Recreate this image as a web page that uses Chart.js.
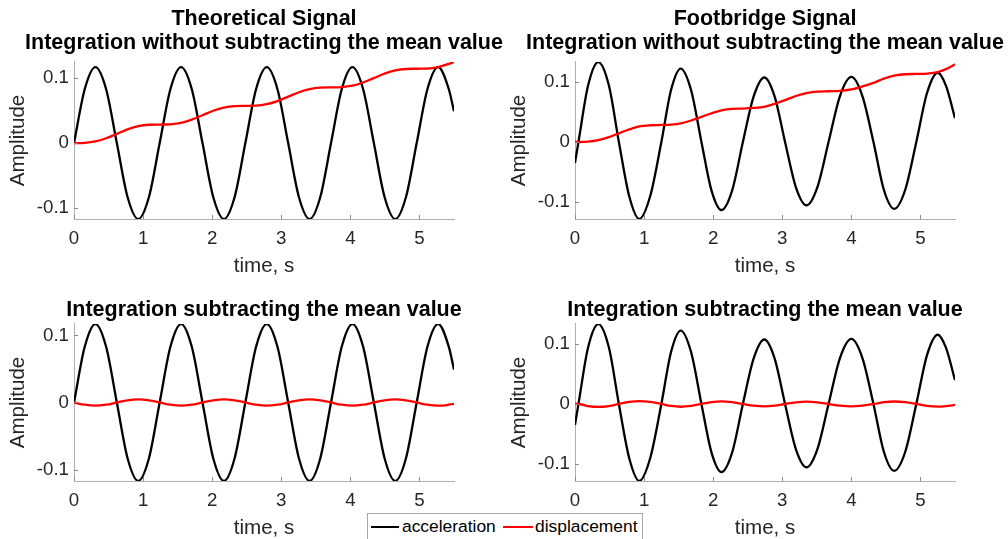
<!DOCTYPE html>
<html lang="en">
  <head>
    <meta charset="UTF-8" />
    <title>Integration of acceleration signals</title>
    <script src="https://cdn.jsdelivr.net/npm/chart.js"></script>
    <style>
      body {
        margin: 0;
        width: 1008px;
        height: 539px;
        background: #fff;
        overflow: hidden;
        position: relative;
        font-family: "Liberation Sans", Arial, sans-serif;
      }
      canvas {
        position: absolute;
      }
      .legend {
        position: absolute;
        left: 367px;
        top: 513px;
        width: 276px;
        height: 34px;
        border: 1px solid #a6a6a6;
        background: #fff;
        box-sizing: border-box;
      }
      .legend .sw {
        position: absolute;
        top: 12px;
        height: 2px;
      }
      .legend .lb {
        position: absolute;
        top: 4px;
        font-size: 17.4px;
        line-height: 1;
        color: #000;
      }
    </style>
  </head>
  <body>
    <canvas id="tl" width="528" height="279" style="left: 0; top: 0"></canvas>
    <canvas id="tr" width="528" height="279" style="left: 501px; top: 0"></canvas>
    <canvas id="bl" width="528" height="253" style="left: 0; top: 288px"></canvas>
    <canvas id="br" width="528" height="253" style="left: 501px; top: 288px"></canvas>
    <div class="legend">
      <div class="sw" style="left: 3px; width: 28px; background: #000"></div>
      <div class="lb" style="left: 34px">acceleration</div>
      <div class="sw" style="left: 135px; width: 30px; background: #f00"></div>
      <div class="lb" style="left: 167px">displacement</div>
    </div>
    <script>
      // time, s (theoretical signal)
      const timeTheo = [
        0, 0.155, 0.31, 0.465, 0.62, 0.775, 0.93, 1.085, 1.24, 1.395, 1.55,
        1.705, 1.86, 2.015, 2.17, 2.325, 2.48, 2.635, 2.79, 2.945, 3.1, 3.255,
        3.41, 3.565, 3.72, 3.875, 4.03, 4.185, 4.34, 4.495, 4.65, 4.805, 4.96,
        5.115, 5.27, 5.425, 5.5,
      ];
      const accTheo = [
        0, 0.083, 0.117, 0.083, 0, -0.083, -0.117, -0.083, 0, 0.083, 0.117,
        0.083, 0, -0.083, -0.117, -0.083, 0, 0.083, 0.117, 0.083, 0, -0.083,
        -0.117, -0.083, 0, 0.083, 0.117, 0.083, 0, -0.083, -0.117, -0.083, 0,
        0.083, 0.117, 0.083, 0.049,
      ];
      // displacement, no mean subtracted
      const dispTheo = [
        0, 0.0004, 0.0026, 0.0075, 0.0143, 0.0211, 0.0261, 0.0283, 0.0286,
        0.029, 0.0312, 0.0362, 0.043, 0.0498, 0.0547, 0.0569, 0.0573, 0.0576,
        0.0599, 0.0648, 0.0716, 0.0784, 0.0833, 0.0856, 0.0859, 0.0863, 0.0885,
        0.0934, 0.1002, 0.1071, 0.112, 0.1142, 0.1146, 0.1149, 0.1172, 0.1221,
        0.125,
      ];
      // displacement, mean subtracted
      const dispTheoZero = [
        0, -0.0033, -0.0047, -0.0033, 0, 0.0033, 0.0047, 0.0033, 0, -0.0033,
        -0.0047, -0.0033, 0, 0.0033, 0.0047, 0.0033, 0, -0.0033, -0.0047,
        -0.0033, 0, 0.0033, 0.0047, 0.0033, 0, -0.0033, -0.0047, -0.0033, 0,
        0.0033, 0.0047, 0.0033, 0, -0.0033, -0.0047, -0.0033, -0.002,
      ];

      // time, s (footbridge signal)
      const timeFoot = [
        0, 0.05, 0.19, 0.337, 0.49, 0.635, 0.785, 0.93, 1.09, 1.25, 1.39, 1.53,
        1.68, 1.83, 1.975, 2.12, 2.275, 2.43, 2.585, 2.74, 2.89, 3.04, 3.195,
        3.35, 3.51, 3.67, 3.835, 4.0, 4.16, 4.32, 4.47, 4.62, 4.78, 4.94, 5.095,
        5.25, 5.37, 5.5,
      ];
      const accFoot = [
        -0.035, 0, 0.095, 0.134, 0.095, 0, -0.091, -0.129, -0.09, 0, 0.087,
        0.123, 0.087, 0, -0.081, -0.114, -0.081, 0, 0.076, 0.108, 0.076, 0,
        -0.075, -0.106, -0.075, 0, 0.077, 0.109, 0.077, 0, -0.08, -0.112, -0.08,
        0, 0.082, 0.116, 0.094, 0.04,
      ];
      const dispFoot = [
        0, 0, 0.0005, 0.003, 0.008, 0.0145, 0.021, 0.026, 0.028, 0.0285, 0.029,
        0.031, 0.036, 0.042, 0.048, 0.053, 0.0555, 0.056, 0.057, 0.059, 0.064,
        0.07, 0.077, 0.082, 0.0845, 0.085, 0.0855, 0.088, 0.093, 0.099, 0.106,
        0.111, 0.1135, 0.114, 0.1145, 0.117, 0.122, 0.13,
      ];
      const dispFootZero = [
        0, 0, -0.0036, -0.005, -0.0036, 0, 0.0034, 0.0049, 0.0034, 0, -0.0033,
        -0.0046, -0.0033, 0, 0.003, 0.0043, 0.003, 0, -0.0029, -0.0041,
        -0.0029, 0, 0.0028, 0.004, 0.0028, 0, -0.0029, -0.0041, -0.0029, 0,
        0.003, 0.0042, 0.003, 0, -0.0031, -0.0044, -0.0035, -0.0015,
      ];

      const xTicks = [0, 1, 2, 3, 4, 5];
      const yTicks = [-0.1, 0, 0.1];

      const axisColor = "#b0b0b0";
      const textColor = "#262626";
      const fontFamily = "'Liberation Sans', Arial, sans-serif";

      // MATLAB style tick marks pointing into the axes
      const innerTicks = {
        id: "innerTicks",
        afterDraw(chart) {
          const ctx = chart.ctx;
          const area = chart.chartArea;
          const x = chart.scales.x;
          const y = chart.scales.y;
          ctx.save();
          ctx.strokeStyle = "#8a8a8a";
          ctx.lineWidth = 1;
          ctx.beginPath();
          xTicks.forEach(function (v) {
            const px = Math.round(x.getPixelForValue(v)) + 0.5;
            ctx.moveTo(px, area.bottom);
            ctx.lineTo(px, area.bottom - 4);
          });
          yTicks.forEach(function (v) {
            const py = Math.round(y.getPixelForValue(v)) + 0.5;
            ctx.moveTo(area.left, py);
            ctx.lineTo(area.left + 4, py);
          });
          ctx.stroke();
          ctx.restore();
        },
      };

      const toPoints = function (xs, ys) {
        return xs.map(function (t, i) {
          return { x: t, y: ys[i] };
        });
      };

      const makeChart = function (id, title, time, acc, disp, yMin, yMax) {
        const twoLines = Array.isArray(title);
        return new Chart(document.getElementById(id), {
          type: "line",
          data: {
            datasets: [
              {
                label: "acceleration",
                data: toPoints(time, acc),
                borderColor: "#000000",
                borderWidth: 2.3,
                pointRadius: 0,
                cubicInterpolationMode: "monotone",
                order: 2,
              },
              {
                label: "displacement",
                data: toPoints(time, disp),
                borderColor: "#ff0000",
                borderWidth: 2.3,
                pointRadius: 0,
                cubicInterpolationMode: "monotone",
                order: 1,
              },
            ],
          },
          options: {
            responsive: false,
            animation: false,
            events: [],
            layout: { padding: 0 },
            plugins: {
              legend: { display: false },
              tooltip: { enabled: false },
              title: {
                display: true,
                text: title,
                color: "#000",
                font: { family: fontFamily, size: 21.5, weight: "bold", lineHeight: 1.13 },
                padding: twoLines ? { top: 6.9, bottom: 6.5 } : { top: 10.4, bottom: 1.3 },
              },
            },
            scales: {
              x: {
                type: "linear",
                min: 0,
                max: 5.5,
                afterBuildTicks: function (scale) {
                  scale.ticks = xTicks.map(function (v) {
                    return { value: v };
                  });
                },
                afterFit: function (scale) {
                  scale.height = 60;
                },
                grid: { display: false, drawTicks: false },
                border: { display: true, color: axisColor, width: 1 },
                ticks: {
                  padding: 8.5,
                  color: textColor,
                  maxRotation: 0,
                  font: { family: fontFamily, size: 18.7 },
                },
                title: {
                  display: true,
                  text: "time, s",
                  color: textColor,
                  padding: 0,
                  font: { family: fontFamily, size: 20.6 },
                },
              },
              y: {
                type: "linear",
                position: "left",
                min: yMin,
                max: yMax,
                afterBuildTicks: function (scale) {
                  scale.ticks = yTicks.map(function (v) {
                    return { value: v };
                  });
                },
                afterFit: function (scale) {
                  scale.width = 74;
                },
                grid: { display: false, drawTicks: false },
                border: { display: true, color: axisColor, width: 1 },
                ticks: {
                  padding: 5,
                  color: textColor,
                  font: { family: fontFamily, size: 18.7 },
                  callback: function (v) {
                    return String(v);
                  },
                },
                title: {
                  display: true,
                  text: "Amplitude",
                  color: textColor,
                  padding: { top: 6, bottom: 0 },
                  font: { family: fontFamily, size: 20.6 },
                },
              },
              // empty right axis, keeps the title centred over the plot
              y2: {
                type: "linear",
                position: "right",
                afterFit: function (scale) {
                  scale.width = 74;
                },
                grid: { display: false },
                border: { display: false },
                ticks: { display: false },
              },
            },
          },
          plugins: [innerTicks],
        });
      };

      makeChart(
        "tl",
        ["Theoretical Signal", "Integration without subtracting the mean value"],
        timeTheo, accTheo, dispTheo, -0.117, 0.125
      );
      makeChart(
        "tr",
        ["Footbridge Signal", "Integration without subtracting the mean value"],
        timeFoot, accFoot, dispFoot, -0.129, 0.134
      );
      makeChart(
        "bl",
        "Integration subtracting the mean value",
        timeTheo, accTheo, dispTheoZero, -0.117, 0.117
      );
      makeChart(
        "br",
        "Integration subtracting the mean value",
        timeFoot, accFoot, dispFootZero, -0.129, 0.134
      );
    </script>
  </body>
</html>
